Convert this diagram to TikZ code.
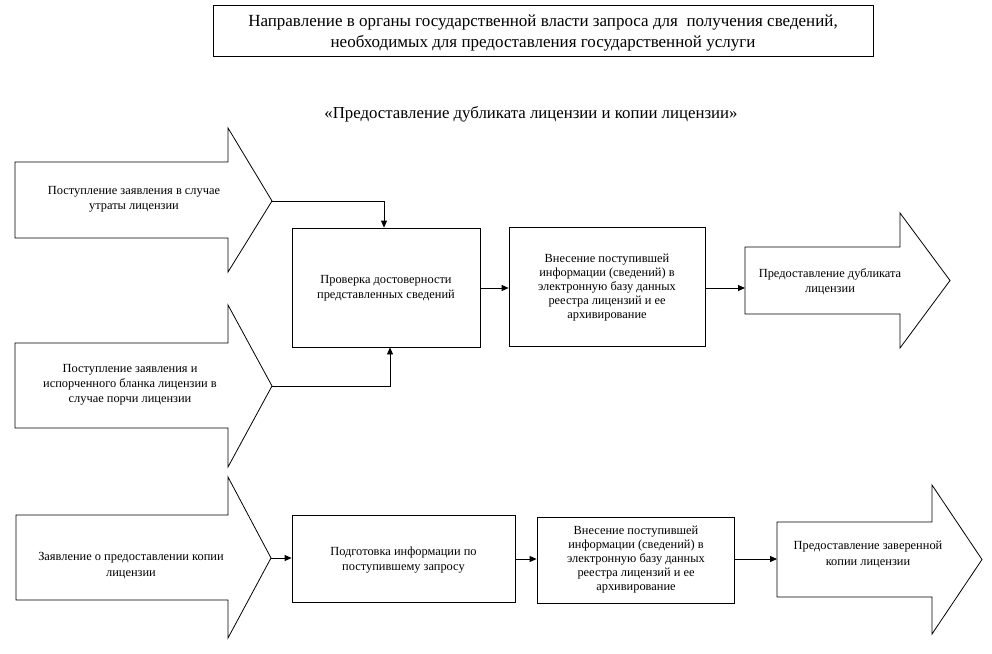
\documentclass[tikz,border=0pt]{standalone}
\usepackage{fontspec}
\setmainfont{Liberation Serif}
\usetikzlibrary{arrows.meta}
\begin{document}
\begin{tikzpicture}[x=1pt,y=-1pt,line width=0.8pt,
  txt/.style={align=center,inner sep=0pt,font=\fontsize{12.4}{15}\selectfont},
  tight/.style={align=center,inner sep=0pt,font=\fontsize{12.4}{14}\selectfont},
  box/.style={draw,inner sep=2pt},
  conn/.style={-{Triangle[length=7pt,width=6pt]}},
  bigarrow/.style={draw,line join=miter}]
\useasboundingbox (0,0) rectangle (992,653);

% heading
\node[draw,line width=1pt,minimum width=660,minimum height=51] (head) at (543,30.5) {};
\node[align=center,inner sep=0pt,font=\fontsize{17}{20.5}\selectfont] (headt) at (543,33)
  {Направление в органы государственной власти запроса для \ получения сведений,\\
   необходимых для предоставления государственной услуги};
\node[font=\fontsize{16.8}{18}\selectfont] (title) at (531,114)
  {«Предоставление дубликата лицензии и копии лицензии»};

% input arrows (top)
\draw[bigarrow] (15,162) -- (228,162) -- (228,128) -- (272,201) -- (228,272) -- (228,238) -- (15,238) -- cycle;
\coordinate (a1tip) at (272,201);
\node[txt] (a1) at (134,199) {Поступление заявления в случае\\утраты лицензии};

\draw[bigarrow] (15,343) -- (228,343) -- (228,305) -- (272,386) -- (228,467) -- (228,428) -- (15,428) -- cycle;
\coordinate (a2tip) at (272,386);
\node[txt] (a2) at (130,385) {Поступление заявления и\\испорченного бланка лицензии в\\случае порчи лицензии};

% boxes top
\node[box,minimum width=188,minimum height=119] (b1) at (386,287.5) {};
\node[txt] (b1t) at (386,288) {Проверка достоверности\\представленных сведений};
\node[box,minimum width=196,minimum height=119] (b2) at (607,286.5) {};
\node[tight] (b2t) at (607,288) {Внесение поступившей\\информации (сведений) в\\электронную базу данных\\реестра лицензий и ее\\архивирование};

% output arrow top
\draw[bigarrow] (745,247) -- (900,247) -- (900,213) -- (950,280.5) -- (900,348) -- (900,314) -- (745,314) -- cycle;
\coordinate (a3in) at (745,288);
\node[txt] (a3) at (830,282) {Предоставление дубликата\\лицензии};

% connectors top
\draw[conn] (a1tip) -| ([xshift=-2pt]b1.north);
\draw[conn] (a2tip) -| ([xshift=4pt]b1.south);
\draw[conn] (b1.east |- 0,288) -- (b2.west |- 0,288);
\draw[conn] (b2.east |- 0,288) -- (a3in);

% bottom row
\draw[bigarrow] (16,515) -- (228,515) -- (228,477) -- (271,558) -- (228,638) -- (228,600) -- (16,600) -- cycle;
\coordinate (a4tip) at (271,558);
\node[txt,font=\fontsize{12.4}{16}\selectfont] (a4) at (131,566) {Заявление о предоставлении копии\\лицензии};

\node[box,minimum width=223,minimum height=87] (b3) at (403.5,558.5) {};
\node[txt,font=\fontsize{12.4}{15.5}\selectfont] (b3t) at (403.5,560) {Подготовка информации по\\поступившему запросу};
\node[box,minimum width=197,minimum height=86] (b4) at (635.5,560) {};
\node[tight] (b4t) at (636,560) {Внесение поступившей\\информации (сведений) в\\электронную базу данных\\реестра лицензий и ее\\архивирование};

\draw[bigarrow] (777,522) -- (932,522) -- (932,485) -- (982,559.5) -- (932,634) -- (932,597) -- (777,597) -- cycle;
\coordinate (a5in) at (777,559);
\node[txt,font=\fontsize{12.4}{16}\selectfont] (a5) at (868,554) {Предоставление заверенной\\копии лицензии};

\draw[conn] (a4tip) -- (b3.west |- a4tip);
\draw[conn] (b3.east |- 0,559) -- (b4.west |- 0,559);
\draw[conn] (b4.east |- 0,559) -- (a5in);
\end{tikzpicture}
\end{document}
